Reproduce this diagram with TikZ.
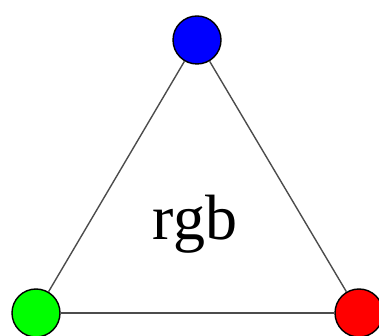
\documentclass[tikz,border=0pt]{standalone}
\usepackage{fontspec}
\setmainfont{Liberation Serif}
\begin{document}
\begin{tikzpicture}[x=1pt,y=1pt,
  vert/.style={circle,draw=black,line width=1.4pt,minimum size=48pt,inner sep=0pt},
  edge/.style={draw=black!70,line width=1.4pt}]
\useasboundingbox (0,0) rectangle (379,336);
\node[vert,fill=blue] (b) at (197,296) {};
\node[vert,fill=green] (g) at (36,23) {};
\node[vert,fill=red] (r) at (359,23) {};
\path[edge] (b) -- (g);
\path[edge] (b) -- (r);
\path[edge] (g) -- (r);
\node[font=\fontsize{64}{64}\selectfont,inner sep=0pt,anchor=base] (t) at (195,96) {rgb};
\end{tikzpicture}
\end{document}
